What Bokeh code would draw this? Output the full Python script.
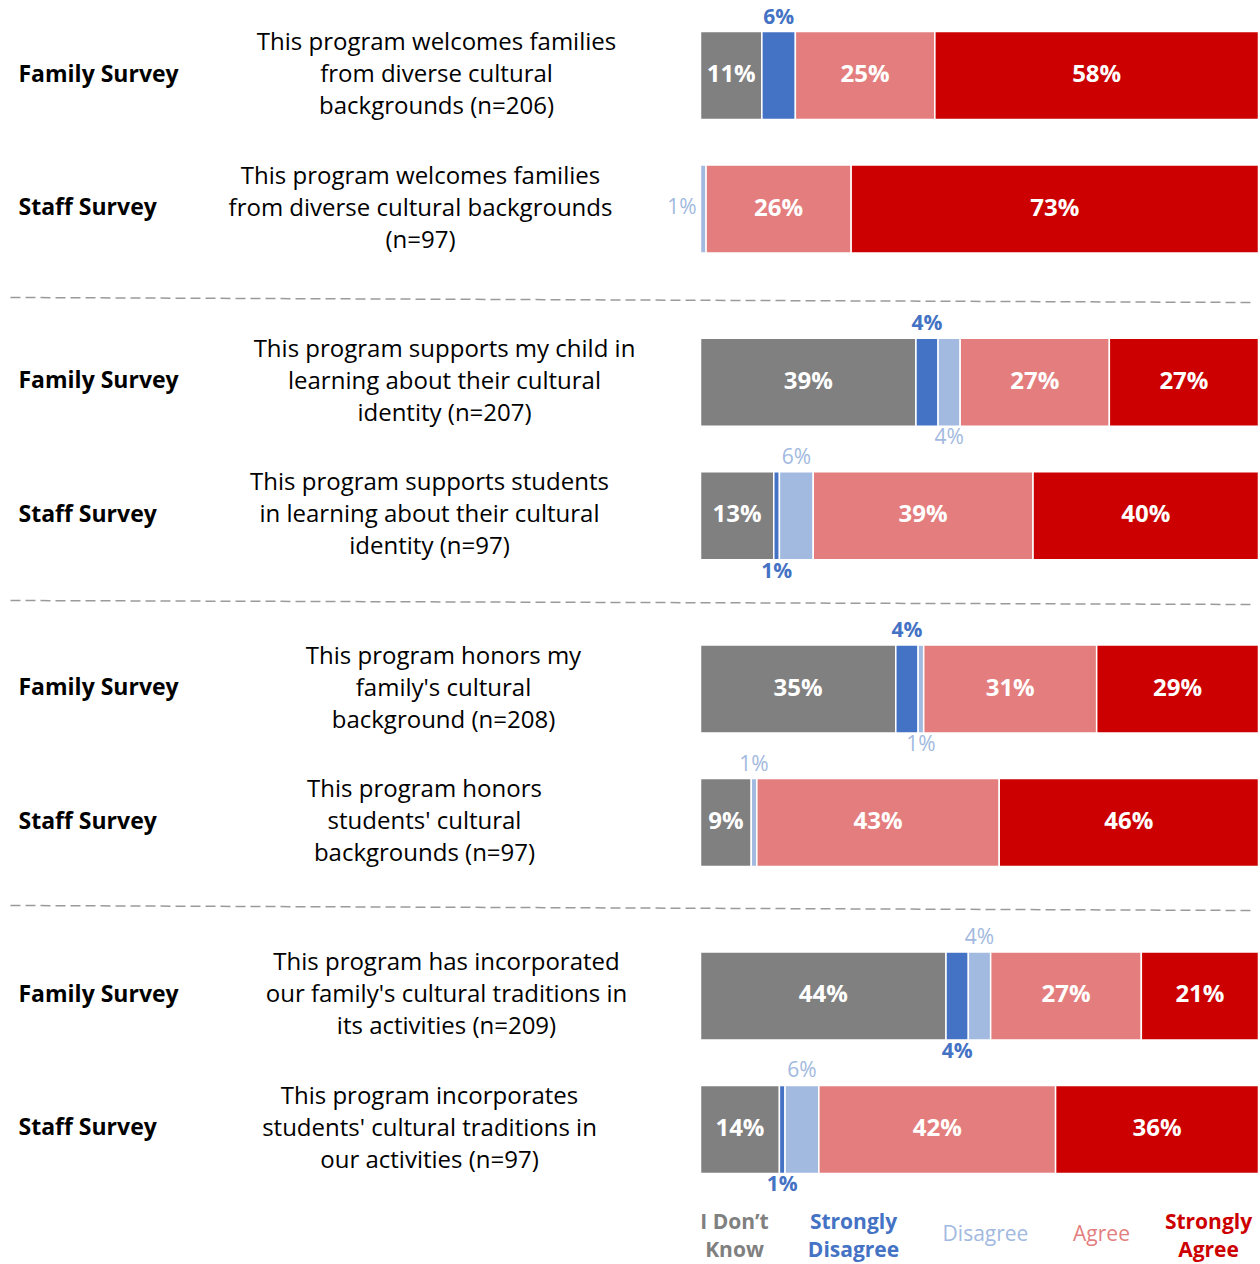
from bokeh.plotting import figure
from bokeh.models import Range1d, ColumnDataSource
from bokeh.embed import file_html
from bokeh.resources import INLINE
from bokeh.core.properties import value

# ---------------- data ----------------
surveys = ["Family Survey", "Staff Survey", "Family Survey", "Staff Survey",
           "Family Survey", "Staff Survey", "Family Survey", "Staff Survey"]
questions = [
    ["This program welcomes families", "from diverse cultural", "backgrounds (n=206)"],
    ["This program welcomes families", "from diverse cultural backgrounds", "(n=97)"],
    ["This program supports my child in", "learning about their cultural", "identity (n=207)"],
    ["This program supports students", "in learning about their cultural", "identity (n=97)"],
    ["This program honors my", "family's cultural", "background (n=208)"],
    ["This program honors", "students' cultural", "backgrounds (n=97)"],
    ["This program has incorporated", "our family's cultural traditions in", "its activities (n=209)"],
    ["This program incorporates", "students' cultural traditions in", "our activities (n=97)"],
]
categories = ["I Don\u2019t Know", "Strongly Disagree", "Disagree", "Agree", "Strongly Agree"]
dont_know = [11, 0, 39, 13, 35, 9, 44, 14]
strongly_disagree = [6, 0, 4, 1, 4, 0, 4, 1]
disagree = [0, 1, 4, 6, 1, 1, 4, 6]
agree = [25, 26, 27, 39, 31, 43, 27, 42]
strongly_agree = [58, 73, 27, 40, 29, 46, 21, 36]
series = [dont_know, strongly_disagree, disagree, agree, strongly_agree]

# ---------------- style / layout ----------------
colors = ["#808080", "#4472C4", "#A2B9E0", "#E47E7E", "#CC0000"]
FONT = "Open Sans"
W, H = 1260, 1264
BAR_LEFT, BAR_RIGHT = 700, 1258
PPU = (BAR_RIGHT - BAR_LEFT) / 100.0
TY = -3  # visual correction for text baseline "middle"


def dx(page_x):
    return (page_x - BAR_LEFT) / PPU


def row_center(i):
    return 75 + (i // 2) * 306.8 + (i % 2) * 133.5


BAR_H = 88
q_cx = [436, 420, 444, 429, 443, 424, 446, 429]
outside_place = {
    (0, 1): "above",
    (1, 2): "left",
    (2, 1): "above", (2, 2): "below",
    (3, 2): "above", (3, 1): "below",
    (4, 1): "above", (4, 2): "below",
    (5, 2): "above",
    (6, 2): "above", (6, 1): "below",
    (7, 2): "above", (7, 1): "below",
}
separators = [(297, 302), (600, 604), (905, 910)]

p = figure(width=W, height=H,
           x_range=Range1d(dx(0), dx(W)),
           y_range=Range1d(H, 0),
           output_backend="svg", toolbar_location=None,
           x_axis_location=None, y_axis_location=None, min_border=0)
p.grid.visible = False
p.outline_line_color = None
p.background_fill_color = "white"
p.border_fill_color = "white"

# bars
bl, br, by, bc = [], [], [], []
in_x, in_y, in_t = [], [], []
out = {"above": [], "below": [], "left": []}
for r in range(len(surveys)):
    vals = [s[r] for s in series]
    tot = float(sum(vals))
    cum = 0.0
    yc = row_center(r)
    for c, v in enumerate(vals):
        left = cum / tot * 100
        cum += v
        right = cum / tot * 100
        if v <= 0:
            continue
        bl.append(left); br.append(right); by.append(yc); bc.append(colors[c])
        if (r, c) in outside_place:
            out[outside_place[(r, c)]].append((r, c, left, right, yc, v))
        else:
            in_x.append((left + right) / 2); in_y.append(yc + TY); in_t.append(f"{v}%")

p.hbar(y="y", left="left", right="right", height=BAR_H, fill_color="color",
       line_color="white", line_width=1.5,
       source=ColumnDataSource(dict(y=by, left=bl, right=br, color=bc)))

p.text(x=in_x, y=in_y, text=in_t, text_color="white", text_font=value(FONT),
       text_font_size="24px", text_font_style="bold", text_align="center",
       text_baseline="middle")

for place, items in out.items():
    for (r, c, left, right, yc, v) in items:
        if place == "above":
            x, y, al = (left + right) / 2, yc - BAR_H / 2 - 13, "center"
        elif place == "below":
            x, y, al = (left + right) / 2, yc + BAR_H / 2 + 13, "center"
        else:
            x, y, al = left - 4 / PPU, yc, "right"
        p.text(x=[x], y=[y + TY], text=[f"{v}%"], text_color=colors[c],
               text_font=value(FONT), text_font_size="21px",
               text_font_style="bold" if c == 1 else "normal",
               text_align=al, text_baseline="middle")

# survey labels and questions
p.text(x=[dx(18)] * len(surveys), y=[row_center(r) + TY for r in range(len(surveys))],
       text=surveys, text_color="black", text_font=value(FONT),
       text_font_size="23px", text_font_style="bold", text_align="left",
       text_baseline="middle")
qx, qy, qt = [], [], []
for r, lines in enumerate(questions):
    for k, line in enumerate(lines):
        qx.append(dx(q_cx[r])); qy.append(row_center(r) + (k - 1) * 32 + TY); qt.append(line)
p.text(x=qx, y=qy, text=qt, text_color="black", text_font=value(FONT),
       text_font_size="24px", text_align="center", text_baseline="middle")

# separators
p.segment(x0=[dx(10)] * 3, x1=[dx(1253)] * 3,
          y0=[s[0] for s in separators], y1=[s[1] for s in separators],
          line_color="#9A9A9A", line_width=1.5, line_dash="10 5")

# legend
leg_cx = [734, 853, 985, 1101, 1208]
leg_lines = [["I Don\u2019t", "Know"], ["Strongly", "Disagree"], ["Disagree"], ["Agree"], ["Strongly", "Agree"]]
leg_bold = [True, True, False, False, True]
for i, lines in enumerate(leg_lines):
    ys = [1223, 1251] if len(lines) == 2 else [1235]
    p.text(x=[dx(leg_cx[i])] * len(lines), y=[v + TY for v in ys], text=lines,
           text_color=colors[i], text_font=value(FONT), text_font_size="21px",
           text_font_style="bold" if leg_bold[i] else "normal",
           text_align="center", text_baseline="middle")

open("out.html", "w").write(file_html(p, INLINE))
